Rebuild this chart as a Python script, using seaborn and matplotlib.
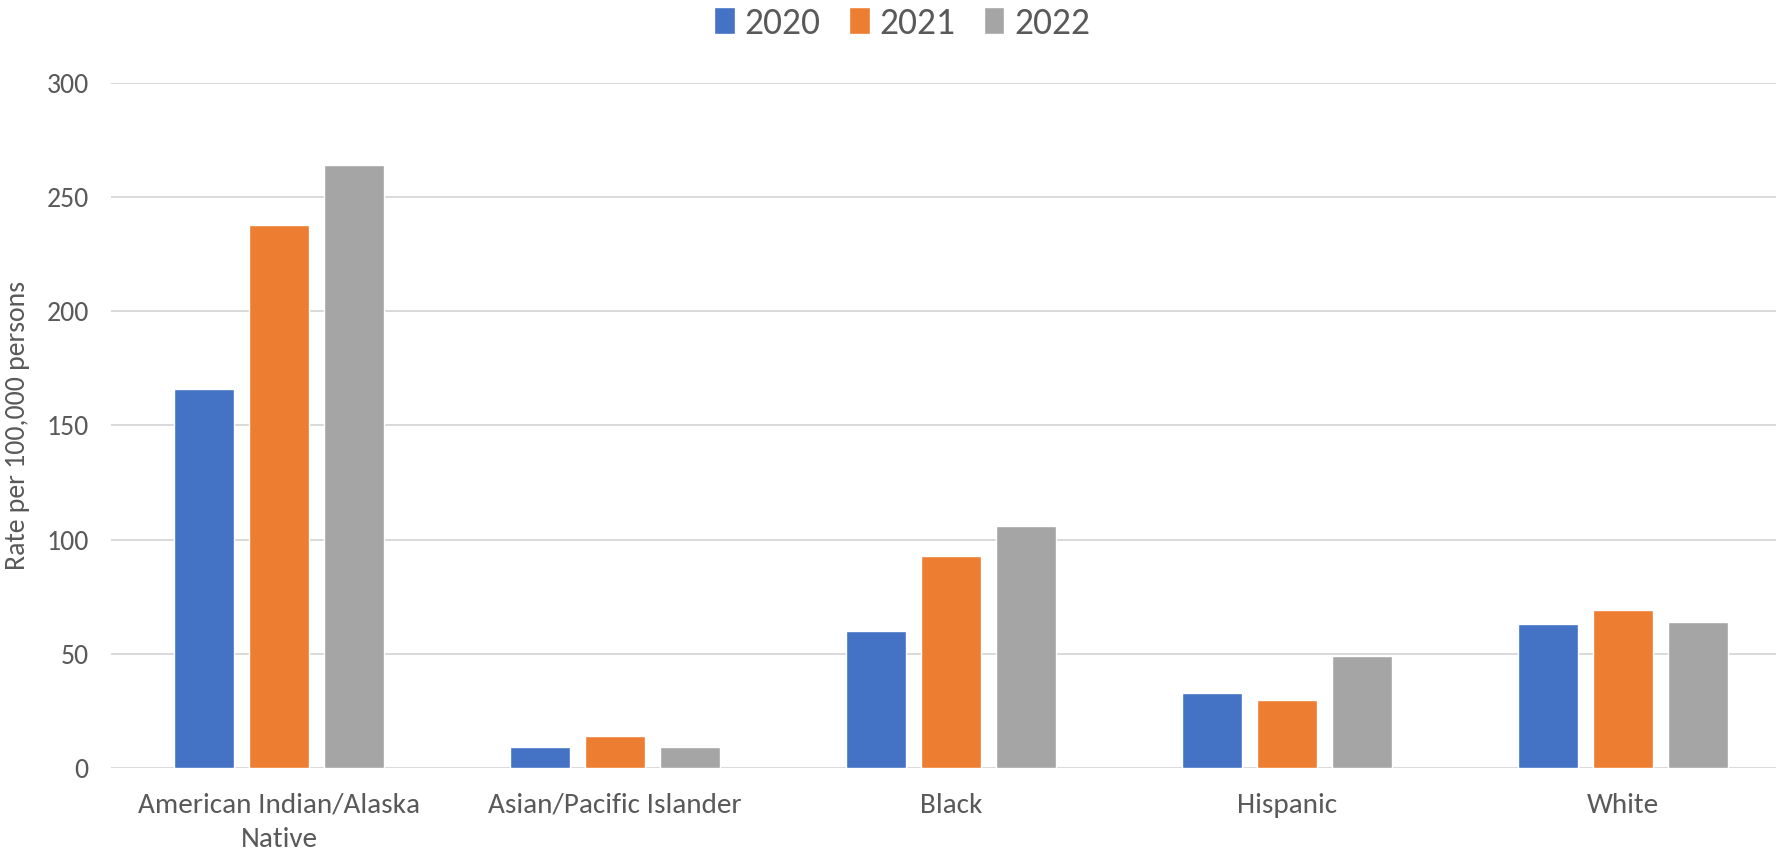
import matplotlib
matplotlib.use("Agg")
import matplotlib.pyplot as plt
import pandas as pd
import seaborn as sns

GROUPS = ["American Indian/Alaska\nNative", "Asian/Pacific Islander", "Black", "Hispanic", "White"]
YEARS = ["2020", "2021", "2022"]
RATE_2020 = [166, 9, 60, 33, 63]
RATE_2021 = [238, 14, 93, 30, 69]
RATE_2022 = [264, 9, 106, 49, 64]
COLORS = ["#4472C4", "#ED7D31", "#A5A5A5"]
TEXT = "#595959"


def main() -> None:
    rows = []
    for year, values in zip(YEARS, [RATE_2020, RATE_2021, RATE_2022]):
        for group, v in zip(GROUPS, values):
            rows.append({"group": group, "year": year, "rate": v})
    df = pd.DataFrame(rows)

    sns.set_theme(style="white")
    plt.rcParams["font.family"] = ["Carlito", "Liberation Sans Narrow", "DejaVu Sans"]

    W, H = 1776, 856
    fig = plt.figure(figsize=(W / 100, H / 100), dpi=100)
    # plot area runs slightly past the right edge, as in the source image
    ax = fig.add_axes([111 / W, 1 - 768 / H, 1680 / W, 685 / H])
    sns.barplot(data=df, x="group", y="rate", hue="year", palette=COLORS,
                width=0.67, gap=0.21, ax=ax, saturation=1, legend=True)

    ax.set_xlim(-0.5, 4.5)
    ax.set_ylim(0, 300)
    ax.set_yticks(range(0, 301, 50))
    ax.yaxis.grid(True, color="#D9D9D9", linewidth=1.4)
    ax.set_axisbelow(True)
    for s in ax.spines.values():
        s.set_visible(False)
    ax.tick_params(axis="y", length=0, pad=16, labelsize=20, labelcolor=TEXT)
    ax.tick_params(axis="x", length=0, pad=18, labelsize=21, labelcolor=TEXT)
    for lbl in ax.get_xticklabels():
        lbl.set_linespacing(1.45)
    ax.set_xlabel("")
    ax.set_ylabel("Rate per 100,000 persons", fontsize=20, color=TEXT, labelpad=12)

    ax.legend(loc="center", bbox_to_anchor=(0.508, 1 - 23 / H), bbox_transform=fig.transFigure,
              ncol=3, frameon=False, fontsize=27, labelcolor=TEXT, borderpad=0,
              handlelength=0.55, handleheight=0.7, handletextpad=0.27, columnspacing=0.75)

    fig.savefig("out.png", dpi=100)
    plt.close(fig)


if __name__ == "__main__":
    main()
